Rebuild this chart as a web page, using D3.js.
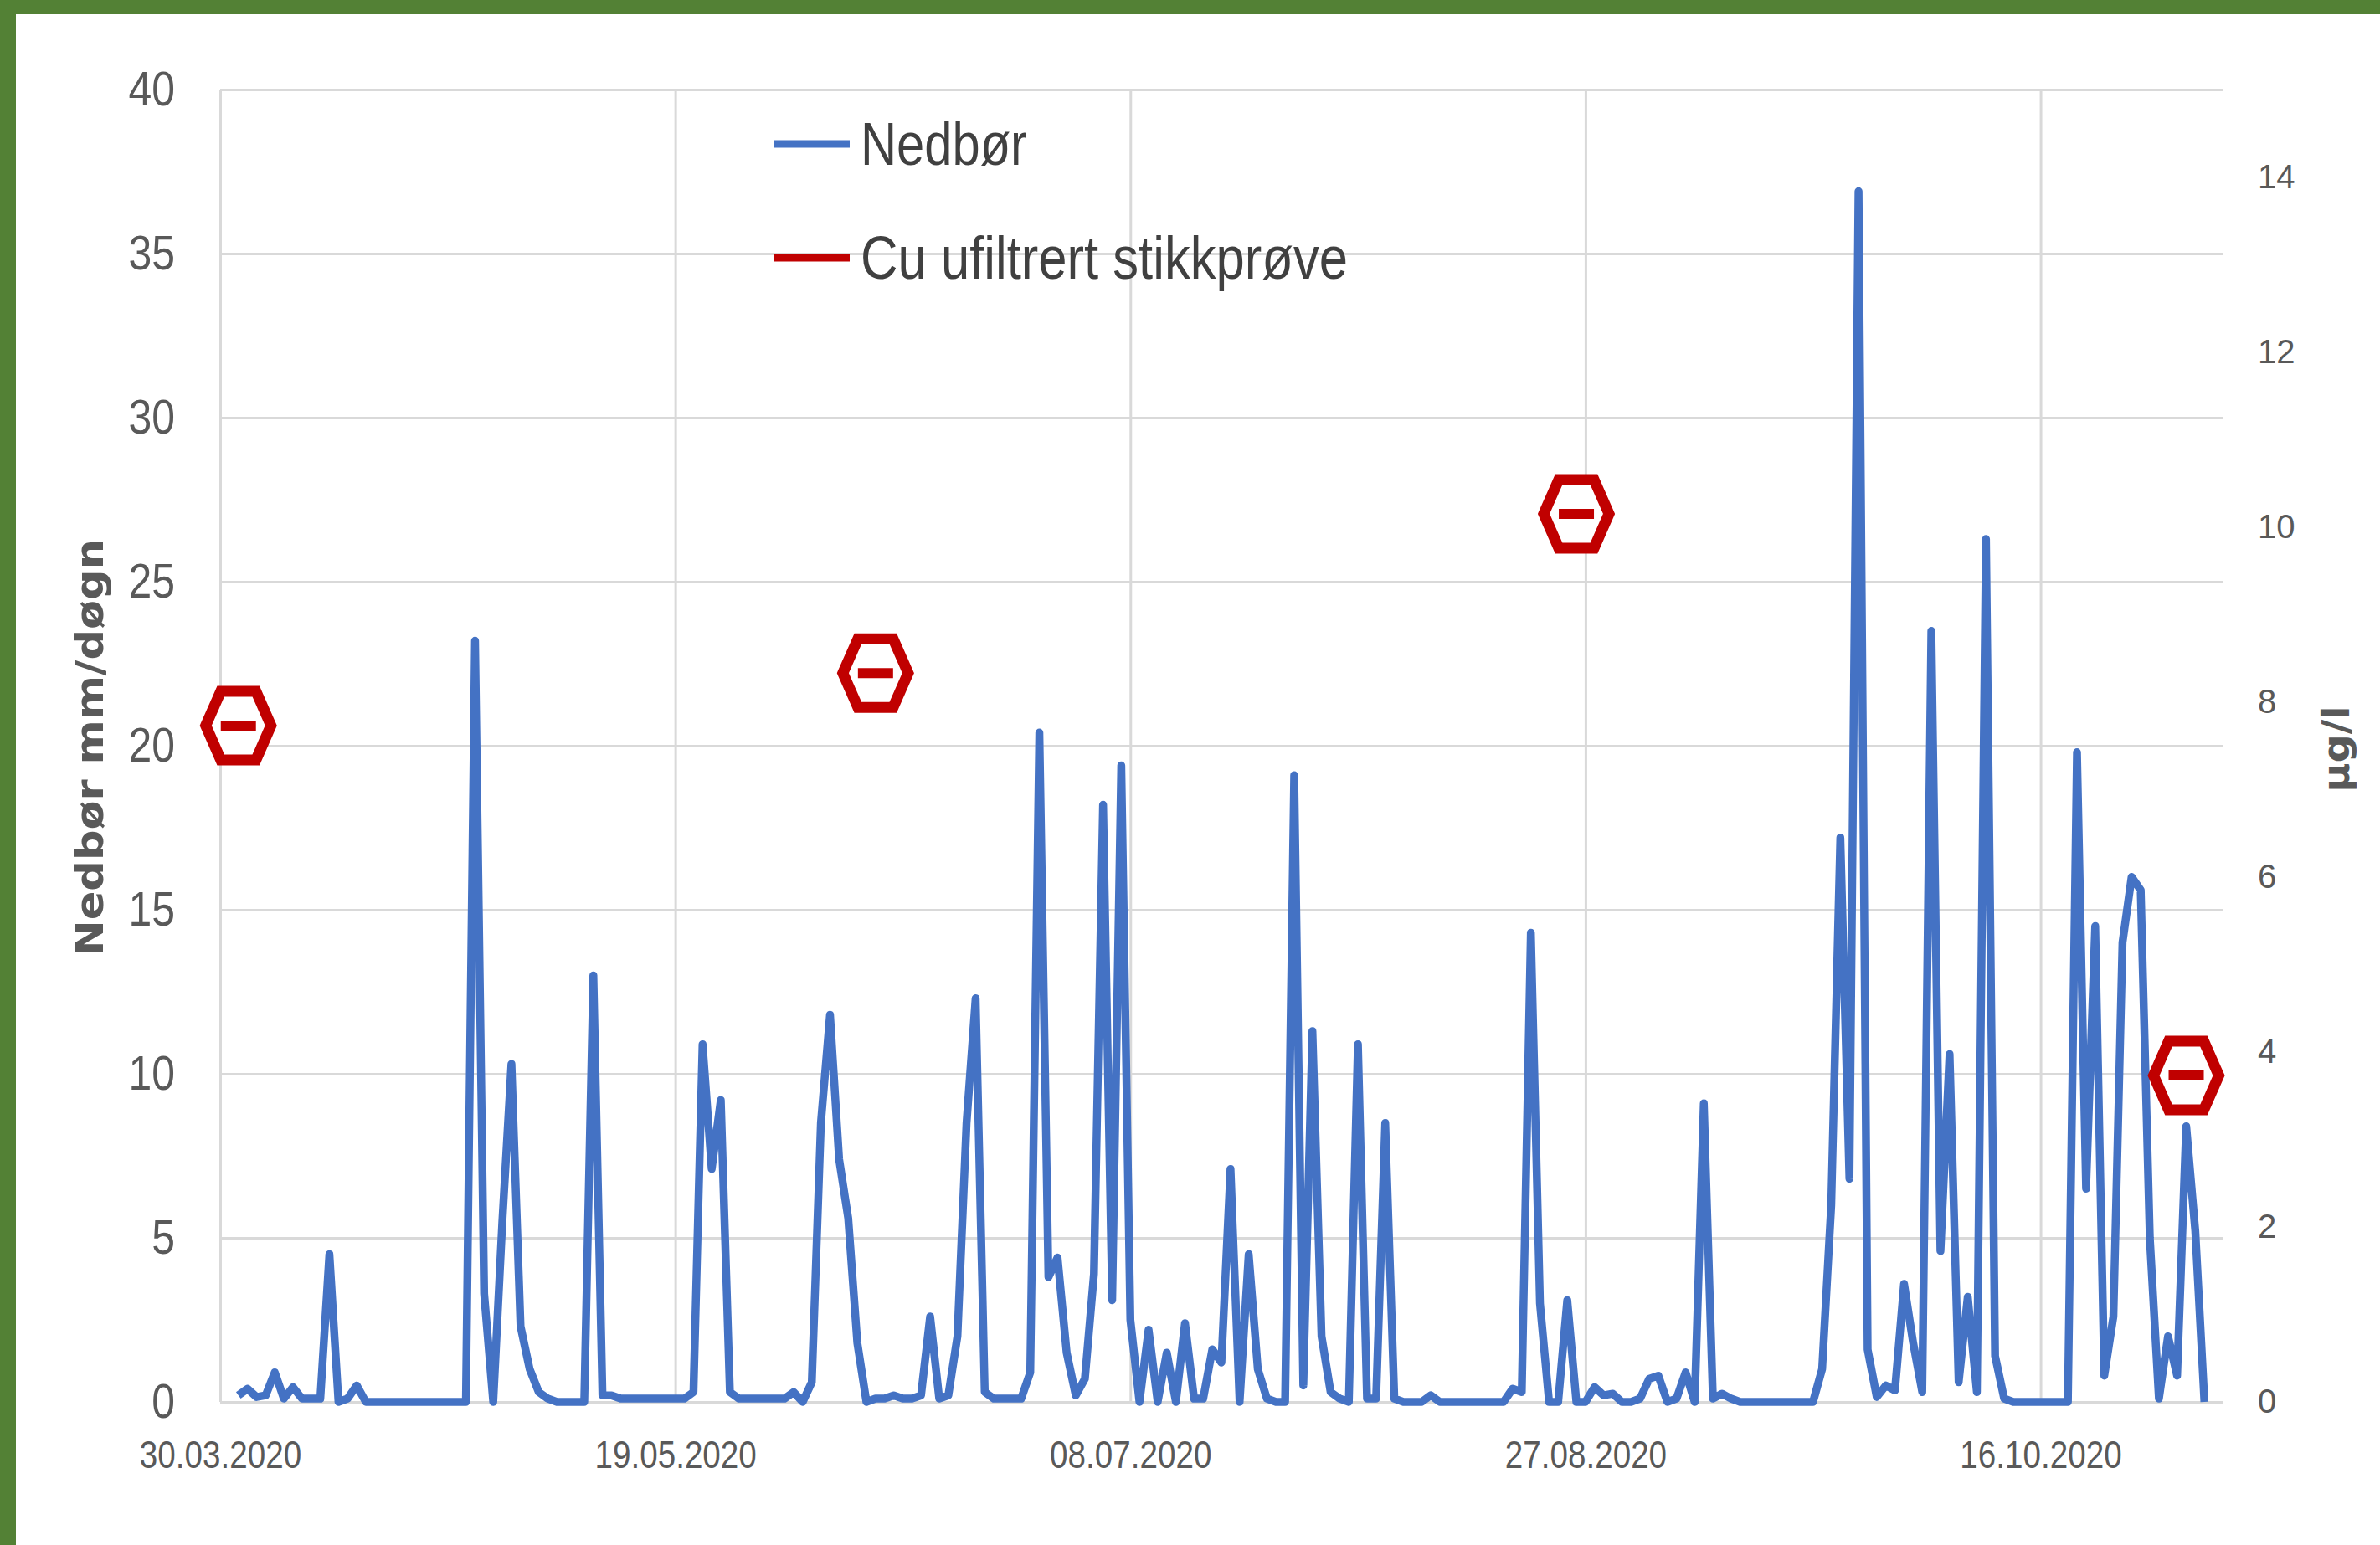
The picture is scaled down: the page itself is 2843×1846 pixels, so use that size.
<!DOCTYPE html>
<html>
<head>
<meta charset="utf-8">
<script src="https://cdn.jsdelivr.net/npm/d3@7"></script>
<style>
  html, body { margin: 0; padding: 0; background: #fff; }
  svg { display: block; }
</style>
</head>
<body>
<svg id="chart" width="2843" height="1846"></svg>
<script>
const width = 2843
const height = 1846
const plot = { left: 263, right: 2655, top: 107, bottom: 1675 }

const axisStart = "30.03.2020"
const axisEnd = "05.11.2020"
const dateTicks = ["30.03.2020", "19.05.2020", "08.07.2020", "27.08.2020", "16.10.2020"]
const leftTicks = [0, 5, 10, 15, 20, 25, 30, 35, 40]
const rightTicks = [0, 2, 4, 6, 8, 10, 12, 14]

// Nedbør mm/døgn, one value per day from rainStart
const rainStart = "01.04.2020"
const rain = [
    0.2, 0.4, 0.15, 0.2, 0.9, 0.1, 0.45, 0.1, 0.1, 0.1,
    4.5, 0, 0.1, 0.5, 0, 0, 0, 0, 0, 0,
    0, 0, 0, 0, 0, 0, 23.2, 3.3, 0, 5.5,
    10.3, 2.3, 1.0, 0.3, 0.1, 0, 0, 0, 0, 13.0,
    0.2, 0.2, 0.1, 0.1, 0.1, 0.1, 0.1, 0.1, 0.1, 0.1,
    0.3, 10.9, 7.1, 9.2, 0.3, 0.1, 0.1, 0.1, 0.1, 0.1,
    0.1, 0.3, 0, 0.6, 8.5, 11.8, 7.4, 5.6, 1.8, 0,
    0.1, 0.1, 0.2, 0.1, 0.1, 0.2, 2.6, 0.1, 0.2, 2.0,
    8.5, 12.3, 0.3, 0.1, 0.1, 0.1, 0.1, 0.9, 20.4, 3.8,
    4.4, 1.5, 0.2, 0.7, 3.9, 18.2, 3.1, 19.4, 2.5, 0,
    2.2, 0, 1.5, 0, 2.4, 0.1, 0.1, 1.6, 1.2, 7.1,
    0, 4.5, 1.0, 0.1, 0, 0, 19.1, 0.5, 11.3, 2.0,
    0.3, 0.1, 0, 10.9, 0.1, 0.1, 8.5, 0.1, 0, 0,
    0, 0.2, 0, 0, 0, 0, 0, 0, 0, 0,
    0.4, 0.3, 14.3, 3.0, 0, 0, 3.1, 0, 0, 0.45,
    0.2, 0.25, 0, 0, 0.1, 0.7, 0.8, 0, 0.1, 0.9,
    0, 9.1, 0.1, 0.25, 0.1, 0, 0, 0, 0, 0,
    0, 0, 0, 0, 1.0, 6.0, 17.2, 6.8, 36.9, 1.6,
    0.15, 0.5, 0.35, 3.6, 1.8, 0.3, 23.5, 4.6, 10.6, 0.6,
    3.2, 0.3, 26.3, 1.4, 0.1, 0, 0, 0, 0, 0,
    0, 0, 19.8, 6.5, 14.5, 0.8, 2.6, 14.0, 16.0, 15.6,
    5.0, 0.1, 2.0, 0.8, 8.4, 5.2, 0
]

// Cu ufiltrert stikkprøve, µg/l
const cuDates = ["01.04.2020", "10.06.2020", "26.08.2020", "01.11.2020"]
const cuValues = [7.73, 8.33, 10.15, 3.73]

const blue = "#4472c4"
const red = "#c00000"
const grey = "#595959"
const gridColor = "#d9d9d9"
const narrow = "'Liberation Sans Narrow', 'Liberation Sans', Arial, sans-serif"

var parse = d3.timeParse("%d.%m.%Y")
var fmt = d3.timeFormat("%d.%m.%Y")

var svg = d3.select("#chart")

var x = d3.scaleTime()
    .domain([parse(axisStart), parse(axisEnd)])
    .range([plot.left, plot.right])
var yL = d3.scaleLinear().domain([0, 40]).range([plot.bottom, plot.top])
var yR = d3.scaleLinear().domain([0, 15]).range([plot.bottom, plot.top])

var start = parse(rainStart)
var rainData = rain.map(function (v, i) {
    return { date: d3.timeDay.offset(start, i), value: v }
})
var cuData = cuDates.map(function (d, i) {
    return { date: parse(d), value: cuValues[i] }
})

// squeeze tick text a bit, the original labels are condensed
function squeeze(sel, k) {
    sel.attr("textLength", function () { return this.getComputedTextLength() * k })
        .attr("lengthAdjust", "spacingAndGlyphs")
}

// frame
svg.append("rect").attr("width", width).attr("height", height).attr("fill", "#fff")
svg.append("rect").attr("x", 0).attr("y", 0).attr("width", width).attr("height", 17).attr("fill", "#538135")
svg.append("rect").attr("x", 0).attr("y", 0).attr("width", 19).attr("height", height).attr("fill", "#538135")

// gridlines
svg.append("g")
    .attr("transform", "translate(" + plot.left + ",0)")
    .call(d3.axisLeft(yL).tickValues(leftTicks).tickSize(-(plot.right - plot.left)).tickFormat(""))
    .call(g => g.select(".domain").remove())
    .call(g => g.selectAll("line").attr("stroke", gridColor).attr("stroke-width", 3))

svg.append("g")
    .attr("transform", "translate(0," + plot.bottom + ")")
    .call(d3.axisBottom(x).tickValues(dateTicks.map(parse)).tickSize(-(plot.bottom - plot.top)).tickFormat(""))
    .call(g => g.select(".domain").remove())
    .call(g => g.selectAll("line").attr("stroke", gridColor).attr("stroke-width", 3))

// axes labels
svg.append("g")
    .attr("transform", "translate(" + plot.left + ",0)")
    .call(d3.axisLeft(yL).tickValues(leftTicks).tickSize(0).tickPadding(54))
    .call(g => g.select(".domain").remove())
    .call(g => g.selectAll("text")
        .attr("fill", grey)
        .style("font-family", narrow)
        .style("font-size", "58px")
        .call(squeeze, 0.86))

svg.append("g")
    .attr("transform", "translate(" + plot.right + ",0)")
    .call(d3.axisRight(yR).tickValues(rightTicks).tickSize(0).tickPadding(42))
    .call(g => g.select(".domain").remove())
    .call(g => g.selectAll("text")
        .attr("fill", grey)
        .style("font-family", "'Liberation Sans', Arial, sans-serif")
        .style("font-size", "40px"))

svg.append("g")
    .attr("transform", "translate(0," + plot.bottom + ")")
    .call(d3.axisBottom(x).tickValues(dateTicks.map(parse)).tickSize(0).tickPadding(46).tickFormat(fmt))
    .call(g => g.select(".domain").remove())
    .call(g => g.selectAll("text")
        .attr("fill", grey)
        .style("font-family", narrow)
        .style("font-size", "46px")
        .call(squeeze, 0.84))

// axis titles
svg.append("text")
    .attr("transform", "translate(107,893) rotate(-90)")
    .attr("text-anchor", "middle")
    .attr("dominant-baseline", "central")
    .attr("textLength", 498)
    .attr("lengthAdjust", "spacingAndGlyphs")
    .attr("fill", grey)
    .style("font-family", "'DejaVu Sans', Verdana, sans-serif")
    .style("font-weight", "bold")
    .style("font-size", "46px")
    .text("Nedbør mm/døgn")

svg.append("text")
    .attr("transform", "translate(2790,895) rotate(-90)")
    .attr("text-anchor", "middle")
    .attr("dominant-baseline", "central")
    .attr("textLength", 103)
    .attr("lengthAdjust", "spacingAndGlyphs")
    .attr("fill", grey)
    .style("font-family", "'DejaVu Sans', Verdana, sans-serif")
    .style("font-weight", "bold")
    .style("font-size", "44px")
    .text("µg/l")

// rain line
var line = d3.line()
    .x(d => x(d.date))
    .y(d => yL(d.value))

svg.append("path")
    .datum(rainData)
    .attr("d", line)
    .attr("fill", "none")
    .attr("stroke", blue)
    .attr("stroke-width", 9.5)
    .attr("stroke-linejoin", "round")

// Cu markers
var hex = "M-39,0L-21,-41L21,-41L39,0L21,41L-21,41Z"

var markers = svg.append("g").selectAll("g")
    .data(cuData)
    .enter().append("g")
    .attr("transform", d => "translate(" + x(d.date) + "," + yR(d.value) + ")")

markers.append("path")
    .attr("d", hex)
    .attr("fill", "#fff")
    .attr("stroke", red)
    .attr("stroke-width", 13)

markers.append("line")
    .attr("x1", -21).attr("x2", 21)
    .attr("stroke", red)
    .attr("stroke-width", 12)

// legend
var legend = svg.append("g")

legend.append("line")
    .attr("x1", 925).attr("x2", 1015).attr("y1", 172).attr("y2", 172)
    .attr("stroke", blue).attr("stroke-width", 9)
legend.append("text")
    .attr("x", 1028).attr("y", 197)
    .attr("textLength", 199).attr("lengthAdjust", "spacingAndGlyphs")
    .attr("fill", "#404040")
    .style("font-family", narrow).style("font-size", "72px")
    .text("Nedbør")

legend.append("line")
    .attr("x1", 925).attr("x2", 1015).attr("y1", 308).attr("y2", 308)
    .attr("stroke", red).attr("stroke-width", 9)
legend.append("text")
    .attr("x", 1028).attr("y", 333)
    .attr("textLength", 582).attr("lengthAdjust", "spacingAndGlyphs")
    .attr("fill", "#404040")
    .style("font-family", narrow).style("font-size", "72px")
    .text("Cu ufiltrert stikkprøve")
</script>
</body>
</html>
